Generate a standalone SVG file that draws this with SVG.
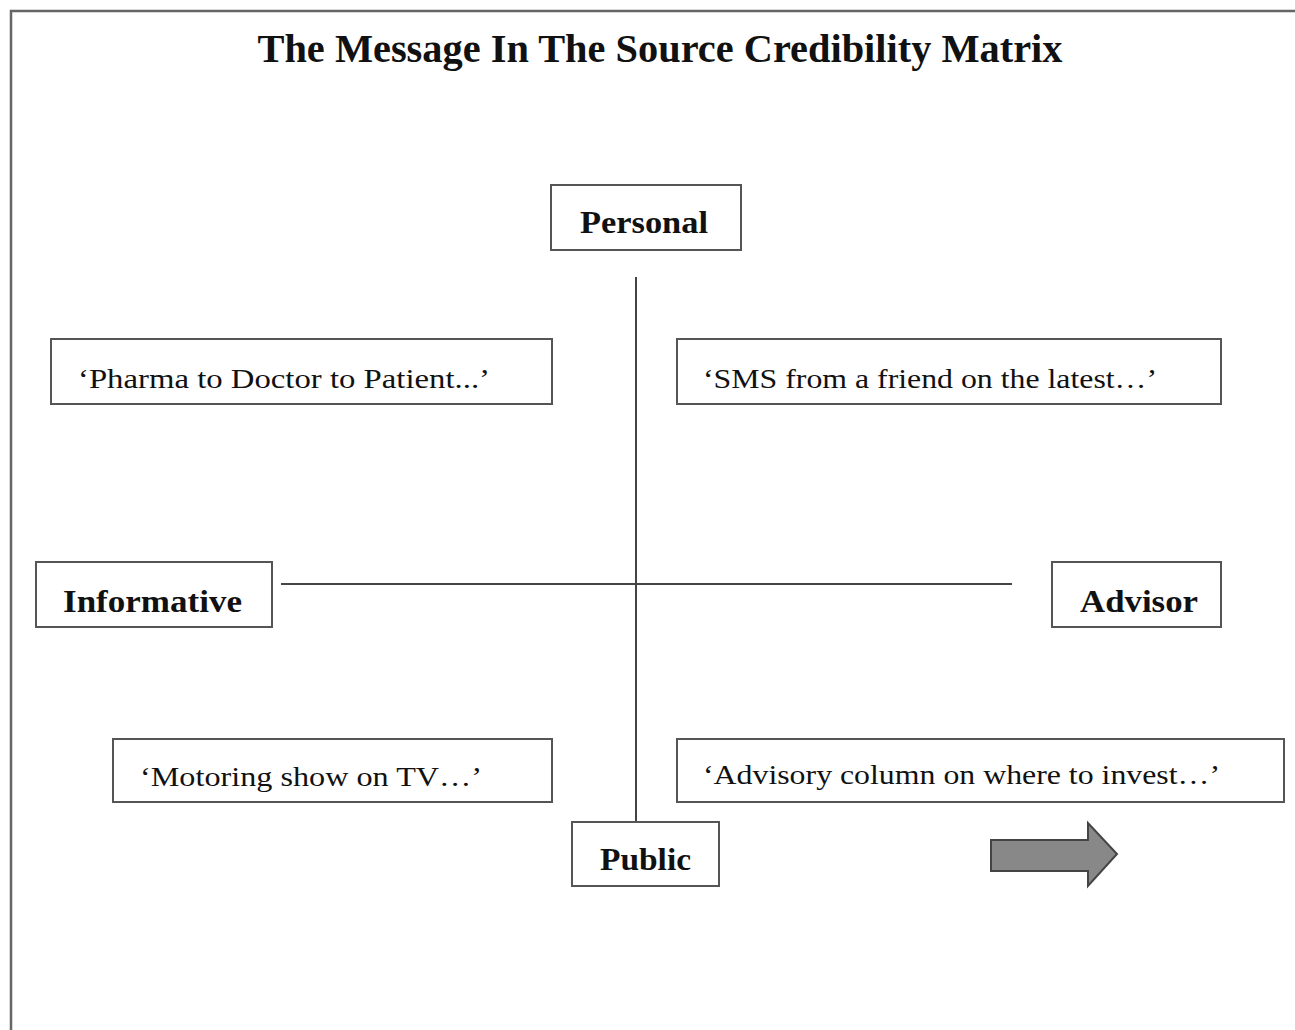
<svg xmlns="http://www.w3.org/2000/svg" width="1295" height="1030" viewBox="0 0 1295 1030">
<style>
.box{fill:#fff;stroke:#555;stroke-width:2}
.lbl{font-family:"Liberation Serif","Times New Roman",serif;font-weight:bold;font-size:32px;fill:#111}
.ttl{font-family:"Liberation Serif","Times New Roman",serif;font-weight:bold;font-size:39px;fill:#111}
.txt{font-family:"Liberation Serif","Times New Roman",serif;font-size:28px;fill:#111}
.ax{stroke:#444;stroke-width:2;fill:none}
</style>
<rect width="1295" height="1030" fill="#fff"/>
<path d="M11,1030 V11 H1295" fill="none" stroke="#666" stroke-width="2.5"/>
<text x="660" y="62" text-anchor="middle" class="ttl" textLength="805" lengthAdjust="spacingAndGlyphs">The Message In The Source Credibility Matrix</text>
<g id="connectors">
<line class="ax" x1="636" y1="277" x2="636" y2="822"/>
<line class="ax" x1="281" y1="584" x2="1012" y2="584"/>
</g>
<g id="personal"><rect class="box" x="551" y="185" width="190" height="65"/><text class="lbl" x="580" y="233" textLength="128" lengthAdjust="spacingAndGlyphs">Personal</text></g>
<g id="pharma"><rect class="box" x="51" y="339" width="501" height="65"/><text class="txt" x="78" y="388" textLength="412" lengthAdjust="spacingAndGlyphs">‘Pharma to Doctor to  Patient...’</text></g>
<g id="sms"><rect class="box" x="677" y="339" width="544" height="65"/><text class="txt" x="703" y="388" textLength="454" lengthAdjust="spacingAndGlyphs">‘SMS from a friend on the latest…’</text></g>
<g id="informative"><rect class="box" x="36" y="562" width="236" height="65"/><text class="lbl" x="63" y="612" textLength="179" lengthAdjust="spacingAndGlyphs">Informative</text></g>
<g id="advisor"><rect class="box" x="1052" y="562" width="169" height="65"/><text class="lbl" x="1080" y="612" textLength="118" lengthAdjust="spacingAndGlyphs">Advisor</text></g>
<g id="motoring"><rect class="box" x="113" y="739" width="439" height="63"/><text class="txt" x="140" y="786" textLength="342" lengthAdjust="spacingAndGlyphs">‘Motoring show on TV…’</text></g>
<g id="advisory"><rect class="box" x="677" y="739" width="607" height="63"/><text class="txt" x="703" y="784" textLength="517" lengthAdjust="spacingAndGlyphs">‘Advisory column on where to invest…’</text></g>
<g id="public"><rect class="box" x="572" y="822" width="147" height="64"/><text class="lbl" x="600" y="870" textLength="91" lengthAdjust="spacingAndGlyphs">Public</text></g>
<g id="arrow"><path d="M991,840 H1088 V823 L1117,854 L1088,886 V871 H991 Z" fill="#888" stroke="#444" stroke-width="2"/></g>
</svg>
